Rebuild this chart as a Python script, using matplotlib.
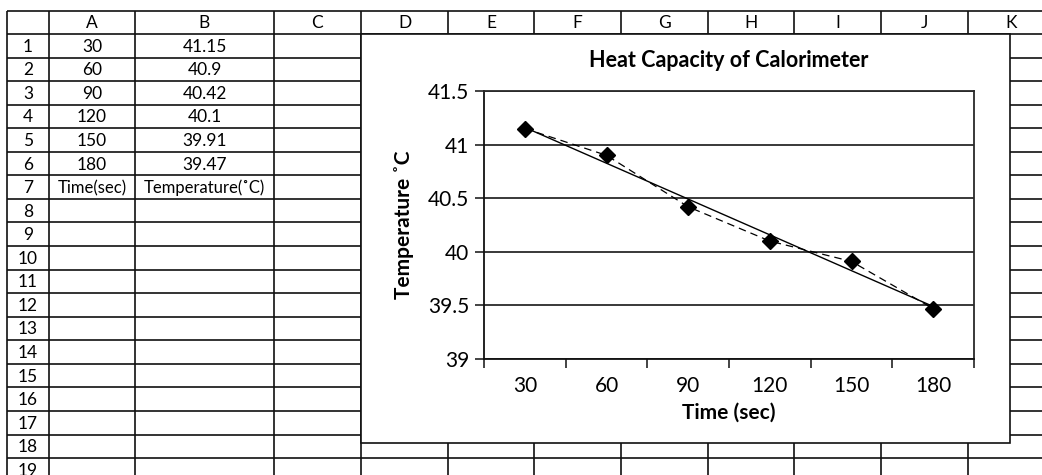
import numpy as np
import matplotlib.pyplot as plt
from matplotlib.patches import Rectangle
from matplotlib.ticker import FixedLocator, NullFormatter, FixedFormatter

plt.rcParams['font.family'] = ['Lato', 'DejaVu Sans']

# data from the sheet
time_sec = [30, 60, 90, 120, 150, 180]
temp_c = [41.15, 40.9, 40.42, 40.1, 39.91, 39.47]
temp_txt = ['41.15', '40.9', '40.42', '40.1', '39.91', '39.47']
col_letters = ['A', 'B', 'C', 'D', 'E', 'F', 'G', 'H', 'I', 'J', 'K']
head_a = 'Time(sec)'
head_b = 'Temperature(˚C)'
y_ticks = [39, 39.5, 40, 40.5, 41, 41.5]
y_labels = ['39', '39.5', '40', '40.5', '41', '41.5']

W, H = 1042, 475
fig = plt.figure(figsize=(W / 100, H / 100), dpi=100)

# spreadsheet background, pixel coords
sheet = fig.add_axes([0, 0, 1, 1])
sheet.set_xlim(0, W)
sheet.set_ylim(H, 0)
sheet.axis('off')

col_edges = [7, 49, 135, 274, 361, 448, 534, 621, 708, 794, 881, 968, 1055]
top = 11
head_bot = 34
row_h = 23.56
n_rows = 19
row_edges = [head_bot + i * row_h for i in range(n_rows + 1)]
lc = '#111111'
lw = 1.2

for x in col_edges:
    sheet.plot([x, x], [top, H + 5], color=lc, lw=lw, solid_capstyle='butt')
for y in [top] + row_edges:
    sheet.plot([col_edges[0], W + 5], [y, y], color=lc, lw=lw, solid_capstyle='butt')

fs = 12.5
for i, letter in enumerate(col_letters):
    cx = (col_edges[i + 1] + col_edges[i + 2]) / 2
    sheet.text(cx, (top + head_bot) / 2 + 1, letter, ha='center', va='center', fontsize=fs)

for r in range(n_rows):
    cy = (row_edges[r] + row_edges[r + 1]) / 2 + 1
    sheet.text((col_edges[0] + col_edges[1]) / 2, cy, str(r + 1),
               ha='center', va='center', fontsize=fs)

xa = (col_edges[1] + col_edges[2]) / 2
xb = (col_edges[2] + col_edges[3]) / 2
for r, (t, v) in enumerate(zip(time_sec, temp_txt)):
    cy = (row_edges[r] + row_edges[r + 1]) / 2 + 1
    sheet.text(xa, cy, str(t), ha='center', va='center', fontsize=fs)
    sheet.text(xb, cy, v, ha='center', va='center', fontsize=fs)
cy = (row_edges[6] + row_edges[7]) / 2 + 1
sheet.text(xa, cy, head_a, ha='center', va='center', fontsize=12)
sheet.text(xb, cy, head_b, ha='center', va='center', fontsize=12)

# chart object box
sheet.add_patch(Rectangle((361, 34), 1010 - 361, 443 - 34, facecolor='white',
                          edgecolor=lc, lw=lw, zorder=5))

# plot area
L, R, T, B = 484, 974, 91, 359
ax = fig.add_axes([L / W, 1 - B / H, (R - L) / W, (B - T) / H])
ax.set_facecolor('white')
pos = np.arange(len(time_sec))
ax.set_xlim(-0.5, len(time_sec) - 0.5)
ax.set_ylim(y_ticks[0], y_ticks[-1])

ax.xaxis.set_major_locator(FixedLocator(np.arange(len(time_sec) + 1) - 0.5))
ax.xaxis.set_major_formatter(NullFormatter())
ax.xaxis.set_minor_locator(FixedLocator(pos))
ax.xaxis.set_minor_formatter(FixedFormatter([str(t) for t in time_sec]))
ax.tick_params(axis='x', which='major', direction='out', length=6.5, width=1.1, color=lc)
ax.tick_params(axis='x', which='minor', length=0, pad=12, labelsize=15)
ax.set_yticks(y_ticks)
ax.set_yticklabels(y_labels)
ax.tick_params(axis='y', direction='out', length=6.5, width=1.1, color=lc, pad=4, labelsize=15)

ax.grid(axis='y', color='#2a2a2a', lw=1.3)
ax.set_axisbelow(True)
for s in ax.spines.values():
    s.set_color('#2a2a2a')
    s.set_linewidth(1.3)
ax.spines['left'].set_color(lc)
ax.spines['bottom'].set_color(lc)

# data series and linear trendline
ax.plot(pos, temp_c, color='black', lw=0.9, dashes=(6, 4), marker='D',
        markersize=8.5, markerfacecolor='black', markeredgecolor='black', zorder=4)
k, b = np.polyfit(pos, temp_c, 1)
ax.plot(pos[[0, -1]], k * pos[[0, -1]] + b, color='black', lw=1, zorder=3)

ax.set_title('Heat Capacity of Calorimeter', fontsize=15.5, fontweight='bold', pad=17)
ax.set_xlabel('Time (sec)', fontsize=15, fontweight='bold', labelpad=5)
ax.set_ylabel('Temperature ˚C', fontsize=15, fontweight='bold', labelpad=10)

fig.savefig('out.png', dpi=100)
